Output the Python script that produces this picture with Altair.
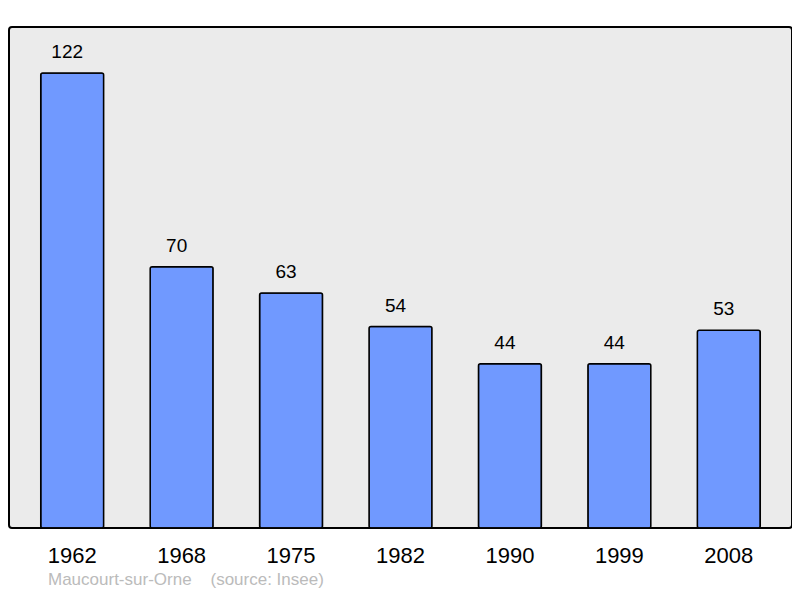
import altair as alt
import pandas as pd

years = ["1962", "1968", "1975", "1982", "1990", "1999", "2008"]
population = [122, 70, 63, 54, 44, 44, 53]

df = pd.DataFrame({"year": years, "pop": population})

FONT = "Liberation Sans"

x = alt.X("year:N", sort=years,
          scale=alt.Scale(paddingInner=0.425, paddingOuter=0.29),
          axis=alt.Axis(title=None, labelAngle=0, labelFontSize=22, labelFont=FONT,
                        labelColor="#000000", ticks=False, domain=False,
                        labelPadding=17, grid=False))
y = alt.Y("pop:Q", scale=alt.Scale(domain=[0, 134.3], nice=False, zero=True),
          axis=None)

bars = alt.Chart(df).mark_bar(
    color="#7099FF", stroke="#000000", strokeWidth=1.5, cornerRadius=2
).encode(x=x, y=y)

labels = alt.Chart(df).mark_text(
    dy=-15, dx=-5, baseline="alphabetic", fontSize=19, font=FONT, color="#000000"
).encode(x=x, y=y, text="pop:Q")

nb = "\u00a0"
chart = alt.layer(bars, labels).properties(
    width=783, height=501,
    padding={"left": 1, "top": 19, "right": 0, "bottom": 62},
    autosize=alt.AutoSizeParams(type="none"),
    background="#FFFFFF",
    title=alt.TitleParams(
        "Maucourt-sur-Orne" + nb * 4 + "(source: Insee)",
        orient="bottom", anchor="start", fontSize=17, font=FONT,
        fontWeight="normal", color="#BBBBBB", offset=6, dx=39
    ),
).configure_view(
    fill="#EBEBEB", stroke="#000000", strokeWidth=2, cornerRadius=3
)

chart.save("out.html", embed_options={"renderer": "svg", "actions": False})
